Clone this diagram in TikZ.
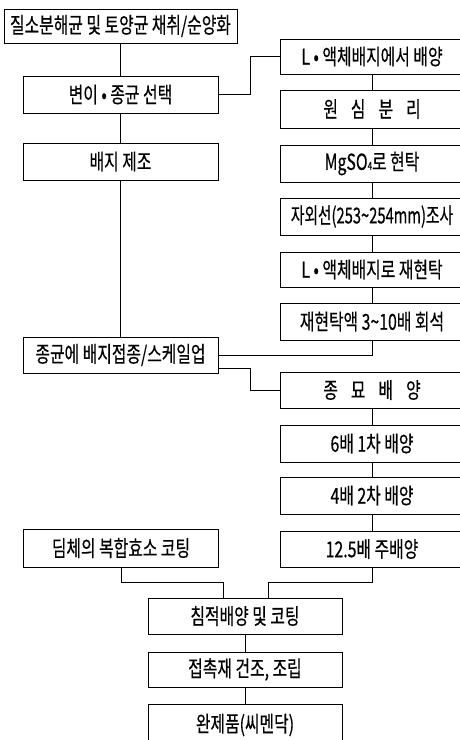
\documentclass[tikz,border=0pt]{standalone}
\usepackage{graphicx}
\usepackage{fontspec}
\newfontfamily\kfont{Noto Sans CJK KR}[FakeStretch=0.72,FakeBold=0.4]
\newcommand{\ksz}{\kfont\fontsize{22}{24}\selectfont}
\newcommand{\gap}{\hspace{13pt}}
\begin{document}
\begin{tikzpicture}[x=1pt,y=-1pt,
  line width=0.9pt,
  fbox/.style={draw, line width=0.9pt, inner sep=0pt, font=\ksz, minimum height=36pt},
  lbox/.style={fbox, minimum width=195pt},
  rbox/.style={fbox, minimum width=184pt},
  cbox/.style={fbox, minimum width=194pt}]
\useasboundingbox (0,0) rectangle (460,740);
\clip (0,0) rectangle (460,740);
% left column
\node[fbox, minimum width=233pt, minimum height=34pt] (a) at (120.5,26) {질소분해균 및 토양균 채취/순양화};
\node[lbox, minimum height=37pt] (b) at (120.5,94.5) {변이 • 종균 선택};
\node[lbox, minimum height=37pt] (c) at (120.5,161.5) {배지 제조};
\node[lbox] (d) at (120.5,355) {종균에 배지접종/스케일업};
\node[lbox, minimum height=38pt] (e) at (121,548) {딤체의 복합효소 코팅};
% right column
\node[rbox, minimum height=35pt] (r1) at (372,56.5) {L • 액체배지에서 배양};
\node[rbox, minimum height=38pt] (r2) at (372,109) {원\gap 심\gap 분\gap 리};
\node[rbox, minimum height=37pt] (r3) at (372,163.5) {MgSO{\fontsize{11}{11}\selectfont 4}로 현탁};
\node[rbox, minimum height=37pt] (r4) at (372,216.5) {\scalebox{0.93}[1]{자외선(253\char"007E 254mm)조사}};
\node[rbox, minimum height=35pt] (r5) at (372,269.5) {L • 액체배지로 재현탁};
\node[rbox, minimum height=37pt] (r6) at (372,321.5) {재현탁액 3\char"007E 10배 회석};
\node[rbox] (r7) at (372,390) {종\gap 묘\gap 배\gap 양};
\node[rbox, minimum height=37pt] (r8) at (372,443.5) {6배 1차 배양};
\node[rbox, minimum height=37pt] (r9) at (372,495.5) {4배 2차 배양};
\node[rbox] (r10) at (372,549) {12.5배 주배양};
% bottom column
\node[cbox] (f) at (245,616) {침적배양 및 코팅};
\node[cbox, minimum height=35pt] (g) at (245,669.5) {접촉재 건조, 조립};
\node[cbox, minimum height=42pt] (h) at (245,725) {완제품(씨멘닥)};
% connectors
\draw (a) -- (b);
\draw (b) -- (c);
\draw (c) -- (d);
\draw (b.east) -- ++(32,0) |- (r1.west);
\draw (r1) -- (r2);
\draw (r2) -- (r3);
\draw (r3) -- (r4);
\draw (r4) -- (r5);
\draw (r5) -- (r6);
\draw (d.east) -| (r6.south);
\draw ([yshift=-13pt]d.east) -- ++(32,0) |- (r7.west);
\draw (r7) -- (r8);
\draw (r8) -- (r9);
\draw (r9) -- (r10);
\draw (e.south) -- ++(0,15) -| ([xshift=-22pt]f.north);
\draw (r10.south) -- ++(0,15) -| ([xshift=23pt]f.north);
\draw (f) -- (g);
\draw (g) -- (h);
\end{tikzpicture}
\end{document}
